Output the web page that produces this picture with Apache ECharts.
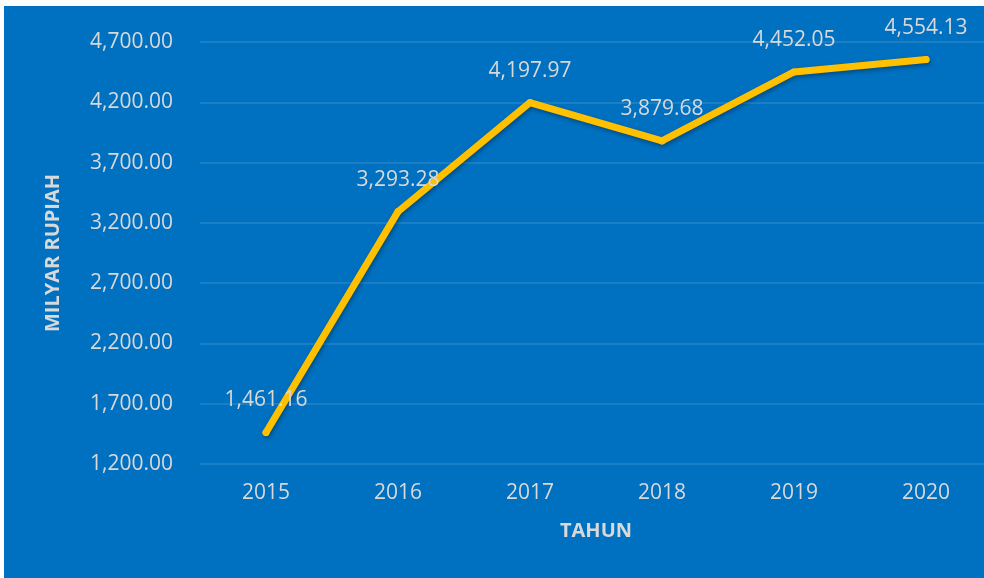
<!DOCTYPE html>
<html>
<head>
<meta charset="utf-8">
<script src="https://cdn.jsdelivr.net/npm/echarts@6/dist/echarts.min.js"></script>
<style>
	html, body { margin: 0; padding: 0; background: #ffffff; overflow: hidden; }
	#wrap { position: absolute; left: 4px; top: 6px; width: 980px; height: 572px; overflow: hidden; background: #0070c0; }
	#chart { position: absolute; left: 0; top: 0; width: 1000px; height: 572px; }
</style>
</head>
<body>
<div id="wrap"><div id="chart"></div></div>
<script>
// data
var tahun = ['2015', '2016', '2017', '2018', '2019', '2020'];
var nilai = [1461.16, 3293.28, 4197.97, 3879.68, 4452.05, 4554.13];
var yMin = 1200;
var yMax = 4700;
var yStep = 500;

function fmt(v) {
	return Number(v).toLocaleString('en-US', { minimumFractionDigits: 2, maximumFractionDigits: 2 });
}

function initChart() {
	// canvas is a bit wider than the visible box, the plot runs past its right edge
	var chart = echarts.init(document.getElementById('chart'));
	var txtColor = '#d9d9d9';
	var option = {
		backgroundColor: '#0070c0',
		textStyle: { fontFamily: 'Open Sans' },
		grid: {
			left: 196,
			top: 36,
			right: 12,
			bottom: 114,
			containLabel: false
		},
		xAxis: {
			type: 'category',
			data: tahun,
			boundaryGap: true,
			name: 'TAHUN',
			nameLocation: 'middle',
			nameGap: 57,
			nameTextStyle: { color: txtColor, fontSize: 20, fontWeight: 'bold' },
			axisLine: { show: false },
			axisTick: { show: false },
			axisLabel: { color: txtColor, fontSize: 21, margin: 19 }
		},
		yAxis: {
			type: 'value',
			min: yMin,
			max: yMax,
			interval: yStep,
			name: 'MILYAR RUPIAH',
			nameLocation: 'middle',
			nameGap: 137,
			nameTextStyle: { color: txtColor, fontSize: 20, fontWeight: 'bold' },
			axisLine: { show: false },
			axisTick: { show: false },
			axisLabel: {
				color: txtColor,
				fontSize: 21,
				margin: 27,
				formatter: function (v) { return fmt(v); }
			},
			splitLine: { lineStyle: { color: 'rgba(255,255,255,0.14)', width: 1.5 } }
		},
		series: [{
			type: 'line',
			data: nilai,
			symbol: 'circle',
			symbolSize: 7,
			itemStyle: { color: '#ffc000' },
			lineStyle: {
				color: '#ffc000',
				width: 7,
				cap: 'round',
				join: 'round',
				shadowColor: 'rgba(0,0,0,0.35)',
				shadowBlur: 4,
				shadowOffsetX: 1,
				shadowOffsetY: 2
			},
			label: {
				show: true,
				position: 'top',
				distance: 18,
				color: txtColor,
				fontSize: 21,
				formatter: function (p) { return fmt(p.value); }
			},
			animation: false
		}]
	};
	chart.setOption(option, true);
}

initChart();
</script>
</body>
</html>
